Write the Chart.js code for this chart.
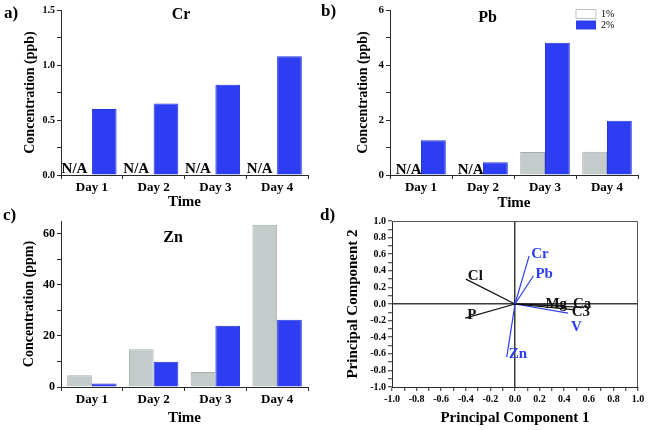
<!DOCTYPE html>
<html><head><meta charset="utf-8">
<script src="https://cdn.jsdelivr.net/npm/chart.js@4/dist/chart.umd.min.js"></script>
<style>
html,body{margin:0;padding:0;background:#fff;}
#wrap{position:relative;width:653px;height:430px;overflow:hidden;background:#fff;}
.pnl{position:absolute;}
canvas{display:block;}
</style></head><body>
<div id="wrap">
  <div class="pnl" style="left:0px;top:0px;"><canvas id="ca" width="325" height="215"></canvas></div>
  <div class="pnl" style="left:318px;top:0px;"><canvas id="cb" width="335" height="215"></canvas></div>
  <div class="pnl" style="left:0px;top:205px;"><canvas id="cc" width="325" height="225"></canvas></div>
  <div class="pnl" style="left:318px;top:205px;"><canvas id="cd" width="335" height="225"></canvas></div>
</div>
<script>
// ---------- data ----------
const days = ['Day 1', 'Day 2', 'Day 3', 'Day 4'];
const seriesNames = ['1%', '2%'];
const cr1 = [null, null, null, null];
const cr2 = [0.60, 0.65, 0.82, 1.08];
const pb1 = [null, null, 0.84, 0.85];
const pb2 = [1.26, 0.46, 4.81, 1.97];
const zn1 = [4.6, 14.8, 5.9, 63.5];
const zn2 = [1.4, 9.9, 24.0, 26.3];
const pcaVars = ['Cr', 'Pb', 'Cl', 'P', 'Mg', 'Ca', 'C3', 'V', 'Zn'];
const pc1 = [0.115, 0.15, -0.40, -0.405, 0.41, 0.56, 0.49, 0.43, -0.067];
const pc2 = [0.58, 0.34, 0.30, -0.17, -0.02, -0.04, -0.07, -0.11, -0.64];
const pcaIsMetal = [true, true, false, false, false, false, false, true, true];
const pcTicks = ['-1.0','-0.8','-0.6','-0.4','-0.2','0.0','0.2','0.4','0.6','0.8','1.0'];

// ---------- style ----------
const SERIF = '"Liberation Serif", "Times New Roman", serif';
const BLUE = '#2c3df2', BLUE_EDGE = '#2535dc';
const GREY = '#c4cccb', GREY_EDGE = '#a6afae';
const AXIS = '#2a2a2a', INK = '#111111';

const near = (v, step) => Math.abs(v / step - Math.round(v / step)) < 1e-6;

const panelText = {
  id: 'panelText',
  afterDraw(chart, args, opts) {
    const ctx = chart.ctx;
    (opts.items || []).forEach(it => {
      ctx.save();
      ctx.font = `${it.weight || 'bold'} ${it.size}px ${SERIF}`;
      ctx.fillStyle = it.color || '#000';
      ctx.textAlign = it.align || 'left';
      ctx.textBaseline = 'middle';
      ctx.fillText(it.text, it.x, it.y);
      ctx.restore();
    });
  }
};

const naLabels = {
  id: 'naLabels',
  afterDatasetsDraw(chart, args, opts) {
    if (!opts || !opts.text) return;
    const xs = chart.scales.x, ys = chart.scales.y, ctx = chart.ctx;
    const cat = xs.width / chart.data.labels.length;
    ctx.save();
    ctx.font = `bold 15px ${SERIF}`;
    ctx.fillStyle = '#000';
    ctx.textAlign = 'center';
    ctx.textBaseline = 'alphabetic';
    chart.data.datasets[0].data.forEach((v, i) => {
      if (v === null) {
        const cx = xs.getPixelForValue(i) - 0.2 * cat + (opts.dx || 0);
        ctx.fillText(opts.text, cx, ys.getPixelForValue(0) - (opts.lift || 1.5));
      }
    });
    ctx.restore();
  }
};

const legendMover = {
  id: 'legendMover',
  afterLayout(chart, args, opts) {
    const lg = chart.legend;
    if (!lg || !opts || opts.x == null) return;
    const w = lg.width, h = lg.height;
    lg.left = opts.x; lg.top = opts.y; lg.right = opts.x + w; lg.bottom = opts.y + h;
  }
};

function barPanel(id, cfg) {
  const g = cfg.geom;
  return new Chart(document.getElementById(id), {
    type: 'bar',
    data: {
      labels: days,
      datasets: [
        { label: seriesNames[0], data: cfg.v1, backgroundColor: GREY, borderColor: GREY_EDGE, borderWidth: 1 },
        { label: seriesNames[1], data: cfg.v2, backgroundColor: BLUE, borderColor: BLUE_EDGE, borderWidth: 1 }
      ]
    },
    options: {
      responsive: false, animation: false, devicePixelRatio: 1,
      layout: { padding: { top: g.top, right: g.right, left: 0, bottom: 0 } },
      datasets: { bar: { categoryPercentage: 0.8, barPercentage: 1.0 } },
      events: [],
      plugins: {
        tooltip: { enabled: false },
        legend: cfg.legend ? {
          display: true, position: 'chartArea', align: 'start',
          labels: {
            boxWidth: 20, boxHeight: 9, padding: 1, color: '#000',
            font: { family: SERIF, size: 10, lineHeight: 1.0 },
            generateLabels(chart) {
              const items = Chart.defaults.plugins.legend.labels.generateLabels(chart);
              items[0].fillStyle = '#ffffff'; items[0].strokeStyle = '#b9c2c1'; items[0].lineWidth = 1;
              items[1].lineWidth = 0;
              return items;
            }
          }
        } : { display: false },
        legendMover: cfg.legend || {},
        panelText: { items: cfg.texts },
        naLabels: { text: 'N/A', dx: cfg.naDx || 0, lift: cfg.naLift || 1.5 }
      },
      scales: {
        x: {
          grid: { display: true, drawOnChartArea: false, drawTicks: true, tickLength: 4, color: AXIS, offset: true },
          border: { display: true, color: AXIS, width: 1 },
          ticks: { color: '#000', font: { family: SERIF, size: 13, weight: 'bold' }, padding: 1, maxRotation: 0, autoSkip: false },
          title: { display: true, text: 'Time', color: '#000', font: { family: SERIF, size: 15, weight: 'bold' }, padding: { top: 0, bottom: g.tpb } },
          afterFit(s) { s.height = g.xh; }
        },
        y: {
          min: 0, max: cfg.yMax, bounds: 'data',
          grid: { display: true, drawOnChartArea: false, drawTicks: true, tickLength: 4,
                  tickColor: c => (c.tick && near(c.tick.value, cfg.yStep)) ? AXIS : 'rgba(0,0,0,0)' },
          border: { display: true, color: AXIS, width: 1 },
          ticks: {
            stepSize: cfg.yStep, autoSkip: false, maxTicksLimit: 100, includeBounds: false, padding: 2,
            color: '#000', font: { family: SERIF, size: cfg.yFont, weight: 'bold' },
            callback: v => near(v, cfg.labelEvery) ? v.toFixed(cfg.dec) : ''
          },
          title: { display: true, text: cfg.yTitle, color: '#000', font: { family: SERIF, size: 14, weight: 'bold' }, padding: { top: g.ytp, bottom: 0 } },
          afterFit(s) { s.width = g.yw; }
        }
      }
    },
    plugins: [panelText, naLabels, legendMover]
  });
}

barPanel('ca', {
  v1: cr1, v2: cr2, yMax: 1.5, yStep: 0.25, labelEvery: 0.5, dec: 1, yFont: 10,
  yTitle: 'Concentration (ppb)', naDx: -5, naLift: 1.7,
  geom: { top: 10, right: 17, yw: 61, xh: 40, tpb: 4, ytp: 22 },
  texts: [
    { text: 'a)', x: 4, y: 14, size: 17 },
    { text: 'Cr', x: 181, y: 15, size: 16, align: 'center' }
  ]
});

barPanel('cb', {
  v1: pb1, v2: pb2, yMax: 6, yStep: 1, labelEvery: 2, dec: 0, yFont: 11,
  yTitle: 'Concentration (ppb)', naDx: 0, naLift: 1,
  geom: { top: 10, right: 15, yw: 72, xh: 40, tpb: 3, ytp: 37 },
  legend: { x: 257, y: 8 },
  texts: [
    { text: 'b)', x: 3, y: 12, size: 17 },
    { text: 'Pb', x: 169.5, y: 18, size: 16, align: 'center' }
  ]
});

barPanel('cc', {
  v1: zn1, v2: zn2, yMax: 65, yStep: 10, labelEvery: 20, dec: 0, yFont: 12,
  yTitle: 'Concentration (ppm)',
  geom: { top: 16, right: 17, yw: 61, xh: 43, tpb: 3, ytp: 21 },
  texts: [
    { text: 'c)', x: 3, y: 11, size: 17 },
    { text: 'Zn', x: 173, y: 33, size: 16, align: 'center' }
  ]
});

// ---------- panel d: PCA loadings ----------
const vecLabels = {
  id: 'vecLabels',
  afterDatasetsDraw(chart, args, opts) {
    const xs = chart.scales.x, ys = chart.scales.y, ctx = chart.ctx;
    const a = chart.chartArea;
    ctx.save();
    ctx.strokeStyle = '#555'; ctx.lineWidth = 1;
    ctx.beginPath();
    ctx.moveTo(a.left, a.top + 0.5); ctx.lineTo(a.right - 0.5, a.top + 0.5); ctx.lineTo(a.right - 0.5, a.bottom);
    ctx.stroke();
    ctx.font = `bold 15px ${SERIF}`;
    ctx.textBaseline = 'middle'; ctx.textAlign = 'left';
    chart.data.datasets.forEach(ds => {
      const p = ds.data[1];
      const off = (opts.offsets && opts.offsets[ds.label]) || [2, -2];
      ctx.fillStyle = ds.borderColor;
      ctx.fillText(ds.label, xs.getPixelForValue(p.x) + off[0], ys.getPixelForValue(p.y) + off[1]);
    });
    ctx.restore();
  }
};

const pcTickCb = v => {
  const k = Math.round(v * 10);
  if (k % 2 !== 0) return '';
  const s = (k / 10).toFixed(1);
  return pcTicks.includes(s) ? s : '';
};
const zeroColor = c => (c.tick && Math.abs(c.tick.value) < 1e-9) ? '#3a3a3a' : 'rgba(0,0,0,0)';

new Chart(document.getElementById('cd'), {
  type: 'scatter',
  data: {
    datasets: pcaVars.map((n, i) => ({
      label: n,
      data: [{ x: 0, y: 0 }, { x: pc1[i], y: pc2[i] }],
      showLine: true, fill: false,
      borderColor: pcaIsMetal[i] ? BLUE : INK,
      borderWidth: 1.2, pointRadius: 0, pointHoverRadius: 0
    }))
  },
  options: {
    responsive: false, animation: false, devicePixelRatio: 1, events: [],
    layout: { padding: { top: 16, right: 15, left: 0, bottom: 0 } },
    plugins: {
      legend: { display: false }, tooltip: { enabled: false },
      panelText: { items: [{ text: 'd)', x: 2, y: 11, size: 17 }] },
      vecLabels: { offsets: {
        Cr: [2, -2], Pb: [2, -2], Cl: [2, -3], P: [2, -3],
        Mg: [-20, -2], Ca: [-11, -3], C3: [-3.5, 2], V: [3, 13.5], Zn: [2, -3]
      } }
    },
    scales: {
      x: {
        type: 'linear', position: 'bottom', min: -1, max: 1,
        grid: { display: true, drawOnChartArea: true, drawTicks: true, tickLength: 4,
                color: zeroColor, lineWidth: 1.5, tickColor: AXIS, tickWidth: 1 },
        border: { display: true, color: AXIS, width: 1 },
        ticks: { stepSize: 0.1, autoSkip: false, maxTicksLimit: 100, maxRotation: 0, padding: 2,
                 color: '#000', font: { family: SERIF, size: 10, weight: 'bold' }, callback: pcTickCb },
        title: { display: true, text: 'Principal Component 1', color: '#000',
                 font: { family: SERIF, size: 15, weight: 'bold' }, padding: { top: 0, bottom: 3 } },
        afterFit(s) { s.height = 43; }
      },
      y: {
        type: 'linear', position: 'left', min: -1, max: 1,
        grid: { display: true, drawOnChartArea: true, drawTicks: true, tickLength: 4,
                color: zeroColor, lineWidth: 1.5, tickColor: AXIS, tickWidth: 1 },
        border: { display: true, color: AXIS, width: 1 },
        ticks: { stepSize: 0.1, autoSkip: false, maxTicksLimit: 100, padding: 2,
                 color: '#000', font: { family: SERIF, size: 10, weight: 'bold' }, callback: pcTickCb },
        title: { display: true, text: 'Principal Component 2', color: '#000',
                 font: { family: SERIF, size: 15, weight: 'bold' }, padding: { top: 26, bottom: 0 } },
        afterFit(s) { s.width = 74; }
      }
    }
  },
  plugins: [panelText, vecLabels]
});
</script>
</body></html>
